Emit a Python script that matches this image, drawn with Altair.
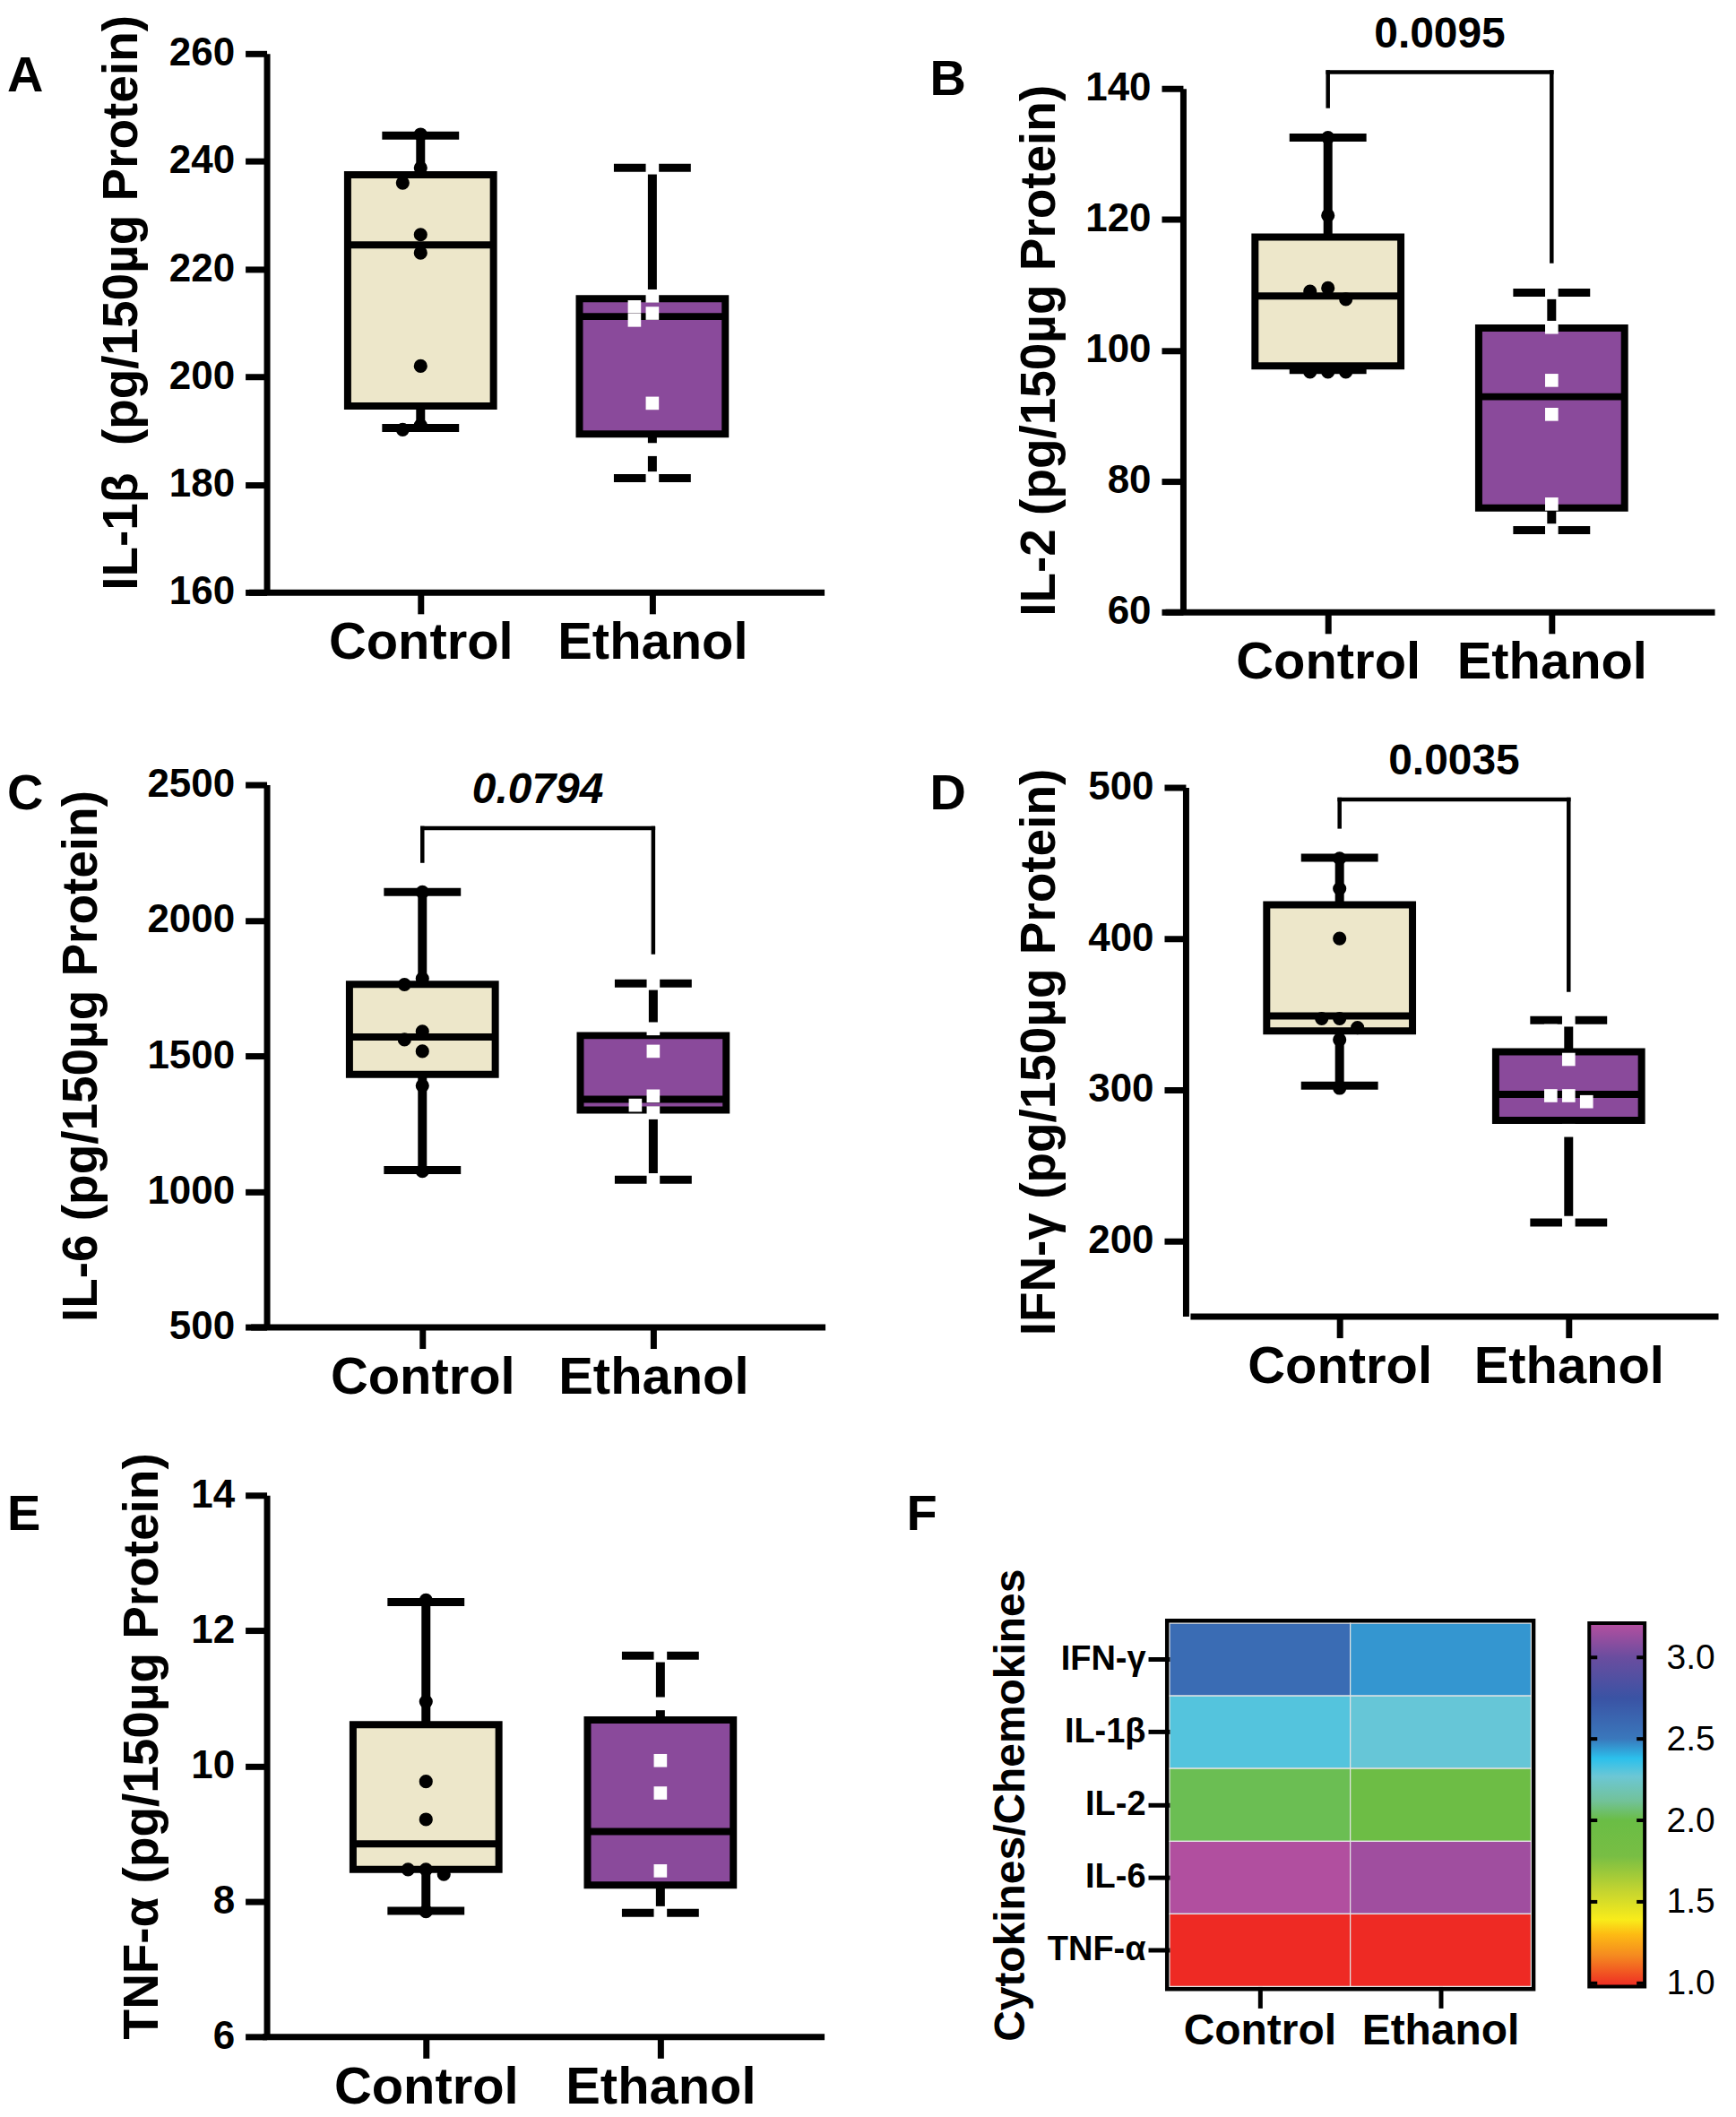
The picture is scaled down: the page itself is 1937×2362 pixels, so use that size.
import altair as alt
import pandas as pd

FONT = "Liberation Sans"
groups = ["Control", "Ethanol"]
box_fills = ["#EDE7CA", "#8A4A9B"]

# ---------------- data ----------------
# box stats: [min, q1, median, q3, max]
A_ctrl_pts = [245.0, 238.8, 236.0, 226.4, 223.0, 202.0, 191.0, 190.2]
A_eth_pts = [238.8, 215.0, 213.0, 211.8, 210.5, 195.1, 186.5, 181.2]
A_ctrl_box = [190.5, 194.6, 224.5, 237.5, 244.8]
A_eth_box = [181.2, 189.4, 211.2, 214.5, 238.8]

B_ctrl_pts = [132.5, 120.6, 109.5, 109.0, 107.8, 96.7, 96.7, 96.7]
B_eth_pts = [108.8, 103.5, 95.4, 90.2, 76.5, 72.5]
B_ctrl_box = [97.0, 97.6, 108.3, 117.3, 132.5]
B_eth_box = [72.5, 75.9, 92.9, 103.4, 108.8]

C_ctrl_pts = [2104, 1785, 1763, 1590, 1560, 1517, 1390, 1075]
C_eth_pts = [1767, 1600, 1517, 1352, 1318, 1290, 1043]
C_ctrl_box = [1079, 1432, 1570, 1764, 2104]
C_eth_box = [1043, 1300, 1340, 1575, 1767]

D_ctrl_pts = [453, 433, 400, 347, 347, 341, 333, 301]
D_eth_pts = [346, 339, 320, 296, 296, 292, 273, 212]
D_ctrl_box = [302.7, 338.9, 348.7, 422.3, 453.4]
D_eth_box = [212, 279.6, 296.8, 325, 346]

E_ctrl_pts = [12.45, 10.95, 9.77, 9.21, 8.47, 8.47, 8.40, 7.85]
E_eth_pts = [11.63, 10.92, 10.08, 9.60, 8.45, 7.83]
E_ctrl_box = [7.86, 8.47, 8.85, 10.61, 12.42]
E_eth_box = [7.83, 8.24, 9.03, 10.68, 11.63]

# significance brackets: [bracket level, left leg end, right leg end]
B_bracket = [142.5, 137.3, 113.6]
B_p = "0.0095"
C_bracket = [2340, 2219, 1882]
C_p = "0.0794"
D_bracket = [492, 474, 366]
D_p = "0.0035"

# heatmap (log10 values)
hm_rows = ["IFN-γ", "IL-1β", "IL-2", "IL-6", "TNF-α"]
hm_ctrl = [2.58, 2.31, 2.02, 3.20, 0.98]
hm_eth = [2.45, 2.28, 1.96, 3.15, 0.98]

cbar_values = [0.98, 1.17, 1.30, 1.39, 1.57, 1.78, 2.00, 2.12, 2.27, 2.38, 2.50, 2.75, 3.00, 3.21]
cbar_colors = ["#EE2A24", "#F58A20", "#FDBB13", "#F9EC1A", "#C3D430", "#78BE44", "#6ABD45",
               "#72C29A", "#6CC7D5", "#2BC0EC", "#3A78BC", "#3A53A4", "#6A4D9F", "#B54F9F"]
cbar_ticks = [1.0, 1.5, 2.0, 2.5, 3.0]


def dodge(values, ydomain, yrange, diam, step=20):
    """Greedy horizontal dodge so overlapping markers sit side by side."""
    d0, d1 = ydomain
    r0, r1 = yrange
    px = [r0 + (v - d0) / (d1 - d0) * (r1 - r0) for v in values]
    placed, offs = [], []
    for p in px:
        chosen = 0
        for cand in [0, -step, step, -2 * step, 2 * step]:
            if all(not (abs(cand - o) < diam and abs(p - q) < diam) for o, q in placed):
                chosen = cand
                break
        placed.append((chosen, p))
        offs.append(chosen)
    return offs


def letter_layer(letter, lx, ly):
    return alt.Chart(pd.DataFrame({"t": [letter]})).mark_text(
        align="left", baseline="top", fontSize=56, fontWeight="bold", font=FONT, color="black"
    ).encode(text="t:N", x=alt.value(lx), y=alt.value(ly))


def box_panel(ctrl_pts, eth_pts, ctrl_box, eth_box, ytitle, ydomain, yticks,
              c1, c2, R, H, yrange, letter, lx, ly, title_x, title_y=None,
              bracket=None, ptext=None, italic=False, xoff=0):
    step = c2 - c1
    xpad = (R - c2) / step
    a = c1 - xpad * step
    box_df = pd.DataFrame({
        "group": groups,
        "lo": [ctrl_box[0], eth_box[0]],
        "q1": [ctrl_box[1], eth_box[1]],
        "med": [ctrl_box[2], eth_box[2]],
        "q3": [ctrl_box[3], eth_box[3]],
        "hi": [ctrl_box[4], eth_box[4]],
    })
    c_off = dodge(ctrl_pts, ydomain, yrange, 17)
    e_off = dodge(eth_pts, ydomain, yrange, 15)
    pts_df = pd.DataFrame({
        "group": ["Control"] * len(ctrl_pts) + ["Ethanol"] * len(eth_pts),
        "v": list(ctrl_pts) + list(eth_pts),
        "dx": c_off + e_off,
    })
    xscale = alt.Scale(type="point", domain=groups, padding=xpad, range=[xoff + a, xoff + R])
    yscale = alt.Scale(domain=ydomain, range=yrange, nice=False, zero=False)
    xaxis = alt.Axis(title=None, labelFontSize=58, labelFontWeight="bold", labelFont=FONT,
                     labelColor="black", labelAngle=0, labelPadding=4, labelLimit=0, tickSize=24,
                     tickWidth=7, tickColor="black", domainWidth=7, domainColor="black",
                     grid=False)
    yax_kw = dict(title=ytitle, values=yticks, format="d", labelFontSize=44, labelFontWeight="bold",
                  labelFont=FONT, labelColor="black", labelPadding=12, tickSize=24,
                  tickWidth=7, tickColor="black", domainWidth=7, domainColor="black",
                  grid=False, titleFontSize=55, titleFontWeight="bold", titleFont=FONT,
                  titleColor="black", titleBaseline="bottom", titleX=title_x, offset=-xoff)
    if title_y is not None:
        yax_kw["titleY"] = title_y
    yaxis = alt.Axis(**yax_kw)

    def X(f="group:N"):
        return alt.X(f, scale=xscale, axis=xaxis)

    def Y(f):
        return alt.Y(f, scale=yscale, axis=yaxis)

    base = alt.Chart(box_df)
    whisk = base.mark_rule(color="black", strokeWidth=10).encode(x=X(), y=Y("lo:Q"), y2="hi:Q")
    cap_lo = base.mark_tick(color="black", size=86, thickness=9, opacity=1).encode(x=X(), y=Y("lo:Q"))
    cap_hi = base.mark_tick(color="black", size=86, thickness=9, opacity=1).encode(x=X(), y=Y("hi:Q"))
    box = base.mark_bar(size=163, stroke="black", strokeWidth=8, opacity=1).encode(
        x=X(), y=Y("q1:Q"), y2="q3:Q",
        fill=alt.Fill("group:N", scale=alt.Scale(domain=groups, range=box_fills), legend=None))
    med = base.mark_tick(color="black", size=163, thickness=8, opacity=1).encode(x=X(), y=Y("med:Q"))
    layers = [whisk, cap_lo, cap_hi, box, med]

    pts = alt.Chart(pts_df)
    for g, offs, shape, col, size in [("Control", c_off, "circle", "black", 230),
                                      ("Ethanol", e_off, "square", "white", 215)]:
        for d in sorted(set(offs)):
            layers.append(
                pts.transform_filter((alt.datum.group == g) & (alt.datum.dx == d))
                .mark_point(shape=shape, filled=True, size=size, color=col, opacity=1, xOffset=d)
                .encode(x=X(), y=Y("v:Q")))

    if bracket is not None:
        legs = pd.DataFrame({"group": groups, "top": [bracket[0], bracket[0]],
                             "end": [bracket[1], bracket[2]]})
        layers.append(alt.Chart(legs).mark_rule(color="black", strokeWidth=4.5, strokeCap="square")
                      .encode(x=X(), y=Y("top:Q"), y2="end:Q"))
        hl = pd.DataFrame({"g1": ["Control"], "g2": ["Ethanol"], "top": [bracket[0]]})
        layers.append(alt.Chart(hl).mark_rule(color="black", strokeWidth=4.5, strokeCap="square")
                      .encode(x=X("g1:N"), x2="g2:N", y=Y("top:Q")))
        tdf = pd.DataFrame({"group": ["Control"], "top": [bracket[0]], "label": [ptext]})
        layers.append(alt.Chart(tdf).mark_text(
            dx=step / 2, dy=-28, baseline="alphabetic", align="center", fontSize=48,
            fontWeight="bold", font=FONT, color="black",
            fontStyle="italic" if italic else "normal").encode(
            x=X(), y=Y("top:Q"), text="label:N"))

    layers.append(letter_layer(letter, lx, ly))
    return alt.layer(*layers).properties(width=R + xoff, height=H)


pA = box_panel(A_ctrl_pts, A_eth_pts, A_ctrl_box, A_eth_box, "IL-1β\u00a0 (pg/150µg Protein)",
               [160, 260], [160, 180, 200, 220, 240, 260], 172, 431, 623, 602, [602, 0],
               "A", -290, -2, -133, title_y=278)
pB = box_panel(B_ctrl_pts, B_eth_pts, B_ctrl_box, B_eth_box, "IL-2 (pg/150µg Protein)",
               [60, 140], [60, 80, 100, 120, 140], 162, 412, 594, 624, [624, 39],
               "B", -268, 2, -132, bracket=B_bracket, ptext=B_p, xoff=15)
pC = box_panel(C_ctrl_pts, C_eth_pts, C_ctrl_box, C_eth_box, "IL-6 (pg/150µg Protein)",
               [500, 2500], [500, 1000, 1500, 2000, 2500], 174, 432, 624, 468, [468, -138],
               "C", -290, -154, -178, bracket=C_bracket, ptext=C_p, italic=True)
pD = box_panel(D_ctrl_pts, D_eth_pts, D_ctrl_box, D_eth_box, "IFN-γ (pg/150µg Protein)",
               [150, 500], [200, 300, 400, 500], 172, 428, 595, 456, [456, -135],
               "D", -268, -154, -135, bracket=D_bracket, ptext=D_p, xoff=18)
pE = box_panel(E_ctrl_pts, E_eth_pts, E_ctrl_box, E_eth_box, "TNF-α (pg/150µg Protein)",
               [6, 14], [6, 8, 10, 12, 14], 178, 440, 623, 462, [462, -143],
               "E", -290, -148, -110, title_y=137)

# ---------------- heatmap F with colour bar ----------------
HM_W, HM_H = 404, 406
CB_X0, CB_X1 = 469, 531

hm_df = pd.DataFrame({
    "cytokine": hm_rows * 2,
    "group": ["Control"] * len(hm_rows) + ["Ethanol"] * len(hm_rows),
    "value": hm_ctrl + hm_eth,
})
color_scale = alt.Scale(domain=cbar_values, range=cbar_colors, interpolate="rgb")
heat = alt.Chart(hm_df).mark_rect(stroke="#e4e4e4", strokeWidth=1.2).encode(
    x=alt.X("group:N", sort=groups, scale=alt.Scale(paddingInner=0, paddingOuter=0),
            axis=alt.Axis(title=None, labelFontSize=48, labelFontWeight="bold", labelFont=FONT,
                          labelColor="black", labelAngle=0, labelPadding=2, labelLimit=0,
                          tickSize=24, tickWidth=5, tickColor="black", domain=False)),
    y=alt.Y("cytokine:N", sort=hm_rows, scale=alt.Scale(paddingInner=0, paddingOuter=0),
            axis=alt.Axis(title="Cytokines/Chemokines", labelFontSize=38, labelFontWeight="bold",
                          labelFont=FONT, labelColor="black", labelPadding=3, labelLimit=0,
                          tickSize=24, tickWidth=5, tickColor="black", domain=False,
                          titleFontSize=48, titleFontWeight="bold", titleFont=FONT,
                          titleColor="black", titleBaseline="bottom", titleX=-153)),
    color=alt.Color("value:Q", scale=color_scale, legend=None),
)

vmin, vmax = cbar_values[0], cbar_values[-1]
stops = [{"offset": (v - vmin) / (vmax - vmin), "color": c} for v, c in zip(cbar_values, cbar_colors)]
gradient = {"gradient": "linear", "x1": 0, "y1": 1, "x2": 0, "y2": 0, "stops": stops}
cb_scale = alt.Scale(domain=[vmin, vmax], nice=False, zero=False)
cb_axis = alt.Axis(orient="right", offset=CB_X1 - HM_W, values=cbar_ticks, format=".1f",
                   title=None, labelFontSize=39, labelFont=FONT, labelFontWeight="normal",
                   labelColor="black", domain=False, ticks=False, tickSize=0, labelPadding=24,
                   grid=False)
cb_rect = alt.Chart(pd.DataFrame({"lo": [vmin], "hi": [vmax]})).mark_rect(
    fill=gradient, stroke="black", strokeWidth=4).encode(
    y=alt.Y("lo:Q", scale=cb_scale, axis=cb_axis), y2="hi:Q",
    x=alt.value(CB_X0), x2=alt.value(CB_X1))
tick_df = pd.DataFrame({"v": cbar_ticks})
cb_tl = alt.Chart(tick_df).mark_rule(color="black", strokeWidth=4).encode(
    y=alt.Y("v:Q", scale=cb_scale, axis=cb_axis), x=alt.value(CB_X0), x2=alt.value(CB_X0 + 9))
cb_tr = alt.Chart(tick_df).mark_rule(color="black", strokeWidth=4).encode(
    y=alt.Y("v:Q", scale=cb_scale, axis=cb_axis), x=alt.value(CB_X1 - 9), x2=alt.value(CB_X1))
cbar = alt.layer(cb_rect, cb_tl, cb_tr)

pF = alt.layer(heat, cbar, letter_layer("F", -294, -148)).resolve_scale(
    y="independent").properties(
    width=HM_W, height=HM_H, view=alt.ViewBackground(stroke="black", strokeWidth=10))

chart = alt.concat(pA, pB, pC, pD, pE, pF, columns=2,
                   spacing={"row": 331, "column": 385}, bounds="flush", align="each").properties(
    padding={"left": 0, "top": 4, "right": 10, "bottom": 10},
    background="white",
).configure(font=FONT).configure_view(stroke=None)

chart.save("out.html", embed_options={"renderer": "svg", "actions": False})
